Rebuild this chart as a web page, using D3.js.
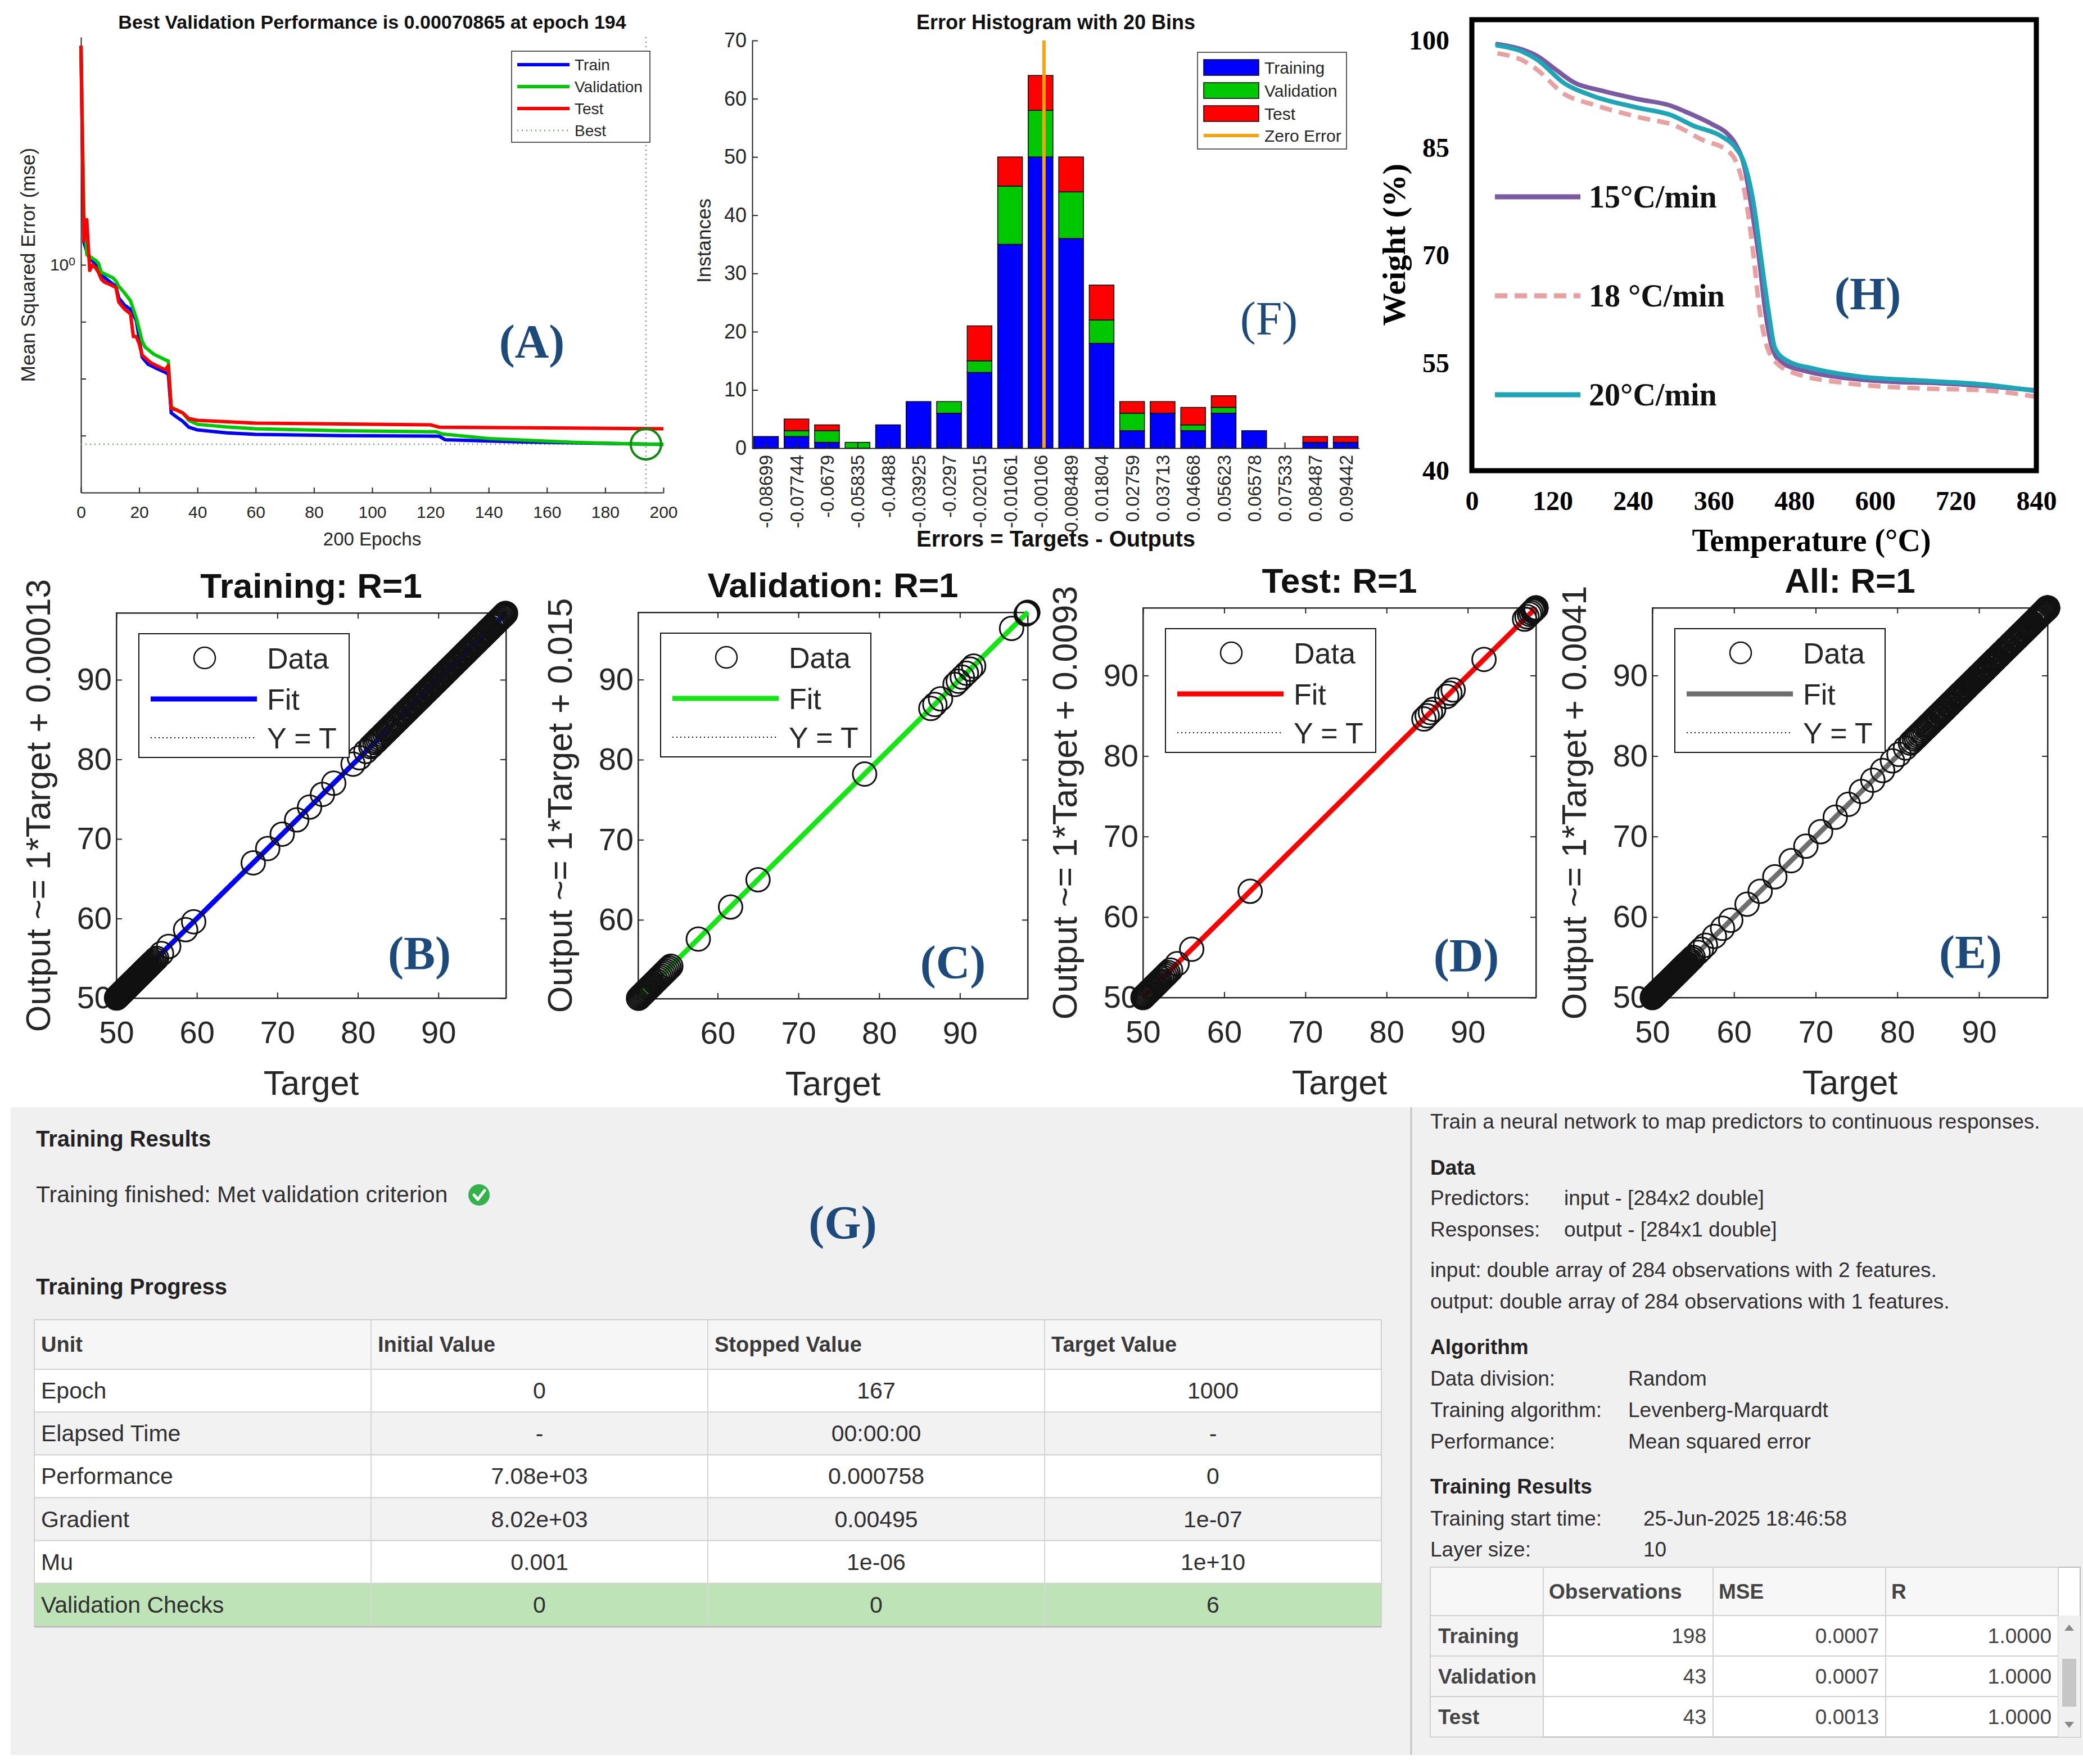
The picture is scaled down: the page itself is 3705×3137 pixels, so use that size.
<!DOCTYPE html>
<html>
<head>
<meta charset="utf-8">
<script src="https://cdn.jsdelivr.net/npm/d3@7"></script>
<style>
  body { margin: 0; background: #fff; }
  svg { display: block; }
</style>
</head>
<body>
<div id="chart"></div>
<script>

// ---------- (A) performance curves: [epoch, mse] ----------
var epochTicks = [0, 20, 40, 60, 80, 100, 120, 140, 160, 180, 200];
var mseTicks = [1e-3, 1e-2, 1e-1, 1];
var bestEpoch = 194;
var bestPerf = 0.00070865;

var trainPerf = [[0, 7080], [1, 2.5], [2, 1.7], [3, 1.26], [5, 1.07], [6, 0.89], [7, 0.66], [10, 0.5],
  [12, 0.42], [13, 0.26], [15, 0.195], [17, 0.166], [19, 0.105], [20, 0.051], [21, 0.024], [23, 0.018],
  [26, 0.0151], [29, 0.0129], [30, 0.012], [31, 0.0025], [33, 0.0021], [35, 0.00178], [37, 0.00141],
  [40, 0.00126], [50, 0.00112], [60, 0.00105], [90, 0.001], [123, 0.00098], [125, 0.00085],
  [150, 0.00078], [194, 0.00071], [200, 0.0007]];

var valPerf = [[0, 7080], [1, 8.1], [2, 1.5], [3, 1.41], [5, 1.2], [6, 1.07], [7, 0.74], [9, 0.66],
  [11, 0.59], [12, 0.52], [13, 0.42], [15, 0.32], [17, 0.234], [19, 0.117], [21, 0.046], [22, 0.036],
  [25, 0.027], [29, 0.0214], [30, 0.0204], [31, 0.0032], [33, 0.0028], [35, 0.0025], [37, 0.00186],
  [40, 0.00158], [50, 0.00142], [60, 0.00132], [90, 0.00122], [122, 0.00117], [124, 0.00107],
  [140, 0.00089], [170, 0.00076], [194, 0.00070865], [200, 0.00071]];

var testPerf = [[0, 7080], [1, 2.6], [2, 6.2], [3, 0.8], [4, 1.0], [5, 0.89], [6, 0.74], [7, 0.56],
  [8, 0.5], [10, 0.45], [12, 0.4], [13, 0.22], [15, 0.166], [17, 0.138], [18, 0.055], [19, 0.055],
  [20, 0.041], [21, 0.026], [24, 0.019], [28, 0.0151], [29, 0.0145], [30, 0.017], [31, 0.003],
  [33, 0.0028], [35, 0.0025], [37, 0.002], [40, 0.00186], [60, 0.00166], [120, 0.00155],
  [123, 0.00141], [200, 0.00132]];

// ---------- (F) error histogram ----------
var binLabels = ['-0.08699', '-0.07744', '-0.0679', '-0.05835', '-0.0488', '-0.03925', '-0.0297',
  '-0.02015', '-0.01061', '-0.00106', '0.008489', '0.01804', '0.02759', '0.03713', '0.04668',
  '0.05623', '0.06578', '0.07533', '0.08487', '0.09442'];
var histTrain = [2, 2, 1, 0, 4, 8, 6, 13, 35, 50, 36, 18, 3, 6, 3, 6, 3, 0, 1, 1];
var histVal = [0, 1, 2, 1, 0, 0, 2, 2, 10, 8, 8, 4, 3, 0, 1, 1, 0, 0, 0, 0];
var histTest = [0, 2, 1, 0, 0, 0, 0, 6, 5, 6, 6, 6, 2, 2, 3, 2, 0, 0, 1, 1];
var instanceTicks = [0, 10, 20, 30, 40, 50, 60, 70];

// ---------- (H) TGA curves: [temperature, weight %] ----------
var tempTicks = [0, 120, 240, 360, 480, 600, 720, 840];
var weightTicks = [40, 55, 70, 85, 100];
var tga15 = [[38, 99.5], [76, 98.7], [96, 97.9], [124, 96.0], [151, 94.2], [193, 93.0], [248, 91.8],
  [296, 90.9], [317, 90.1], [358, 88.3], [379, 87.1], [392, 85.6], [406, 82.2], [416, 76.8],
  [427, 69.9], [437, 62.0], [447, 57.1], [461, 55.1], [496, 53.9], [558, 52.9], [627, 52.4],
  [695, 52.2], [764, 51.8], [840, 51.2]];
var tga18 = [[38, 98.2], [76, 97.2], [96, 96.0], [138, 92.5], [179, 91.1], [248, 89.3], [303, 88.1],
  [344, 86.1], [379, 84.7], [392, 83.3], [406, 78.8], [418, 70.9], [428, 62.5], [437, 58.0],
  [450, 55.4], [480, 53.6], [558, 52.2], [661, 51.5], [764, 51.2], [840, 50.3]];
var tga20 = [[38, 99.3], [76, 98.4], [96, 97.4], [138, 94.0], [179, 92.3], [248, 90.6], [296, 89.6],
  [330, 88.1], [372, 86.6], [392, 85.1], [406, 82.7], [420, 76.8], [430, 69.9], [441, 62.5],
  [451, 57.1], [468, 55.4], [510, 54.2], [579, 53.1], [661, 52.6], [764, 52.0], [840, 51.1]];
var tgaNames = ['15\u00B0C/min', '18 \u00B0C/min', '20\u00B0C/min'];

// ---------- (B-E) regression targets ----------
var regTicks = [50, 60, 70, 80, 90];
var trainTargets = [50.02, 50.05, 50.08, 50.12, 50.15, 50.21, 50.26, 50.3, 50.36, 50.4, 50.44, 50.48,
  50.52, 50.56, 50.6, 50.67, 50.71, 50.75, 50.79, 50.83, 50.9, 50.94, 50.98, 51.01, 51.05, 51.09,
  51.13, 51.17, 51.2, 51.24, 51.28, 51.31, 51.35, 51.42, 51.46, 51.5, 51.54, 51.58, 51.62, 51.66,
  51.7, 51.73, 51.8, 51.85, 51.9, 51.95, 52.0, 52.05, 52.1, 52.14, 52.18, 52.23, 52.27, 52.32,
  52.36, 52.45, 52.5, 52.55, 52.6, 52.65, 52.7, 52.76, 52.82, 52.88, 52.94, 53.0, 53.06, 53.12,
  53.18, 53.25, 53.32, 53.38, 53.45, 53.52, 53.59, 53.66, 53.73, 53.8, 53.88, 53.95, 54.1, 54.25,
  54.42, 54.6, 54.8, 55.0,
  55.6, 56.5, 58.6, 59.6, 67.0, 68.8, 70.6, 72.4, 74.0, 75.6, 77.0, 79.4, 80.2, 81.0,
  81.6, 81.8, 82.1, 82.3, 82.5, 82.7, 82.9, 83.1, 83.3, 83.5, 83.7, 83.85, 84.0, 84.2, 84.4, 84.6,
  84.8, 84.95, 85.1, 85.3, 85.5, 85.65, 85.8, 86.0, 86.2, 86.35, 86.5, 86.7, 86.9, 87.05, 87.2,
  87.4, 87.6, 87.75, 87.9, 88.1, 88.3, 88.45, 88.6, 88.8, 89.0, 89.15, 89.3, 89.5, 89.7, 89.85,
  90.0, 90.2, 90.4, 90.55, 90.7, 90.9, 91.1, 91.25, 91.4, 91.6, 91.8, 91.95, 92.1, 92.3, 92.5,
  92.65, 92.8, 93.0, 93.2, 93.35, 93.5, 93.7, 93.9, 94.05, 94.2, 94.4, 94.6, 94.75, 94.9, 95.1,
  95.3, 95.45, 95.6, 95.8, 96.0, 96.15, 96.3, 96.5, 96.7, 96.85, 97.0, 97.15, 97.3, 97.45, 97.6,
  97.75, 97.9, 98.0, 98.1, 98.2, 98.3, 98.35];
var valTargets = [50.2, 50.35, 50.5, 50.65, 50.8, 50.95, 51.1, 51.25, 51.4, 51.55,
  51.7, 51.85, 52.0, 52.2, 52.4, 52.6, 52.8, 53.0, 53.2, 53.4, 53.6, 53.8, 54.0, 54.2,
  57.6, 61.6, 65.0, 78.2, 86.4, 86.9, 87.6, 89.4, 89.8, 90.3, 90.8, 91.3, 91.7, 96.4,
  98.2, 98.3, 98.35, 98.4, 98.4];
var testTargets = [50.0, 50.1, 50.2, 50.3, 50.45, 50.6, 50.75, 50.9, 51.05, 51.2,
  51.35, 51.5, 51.65, 51.8, 51.95, 52.1, 52.3, 52.5, 52.7, 52.9, 53.1, 53.4,
  54.2, 56.0, 63.2, 84.6, 85.0, 85.4, 85.8, 87.4, 87.8, 88.2, 92.0, 97.0, 97.3,
  97.6, 97.8, 98.0, 98.1, 98.2, 98.3, 98.4, 98.4];
var regIntercepts = ['0.00013', '0.015', '0.0093', '0.0041'];
var regTitles = ['Training: R=1', 'Validation: R=1', 'Test: R=1', 'All: R=1'];

// ---------- (G) training summary ----------
var progressCols = ['Unit', 'Initial Value', 'Stopped Value', 'Target Value'];
var progressRows = [
  ['Epoch', '0', '167', '1000'],
  ['Elapsed Time', '-', '00:00:00', '-'],
  ['Performance', '7.08e+03', '0.000758', '0'],
  ['Gradient', '8.02e+03', '0.00495', '1e-07'],
  ['Mu', '0.001', '1e-06', '1e+10'],
  ['Validation Checks', '0', '0', '6']];
var taskText = 'Train a neural network to map predictors to continuous responses.';
var dataRows = [['Predictors:', 'input - [284x2 double]'], ['Responses:', 'output - [284x1 double]']];
var dataNotes = ['input: double array of 284 observations with 2 features.',
  'output: double array of 284 observations with 1 features.'];
var algoRows = [['Data division:', 'Random'], ['Training algorithm:', 'Levenberg-Marquardt'],
  ['Performance:', 'Mean squared error']];
var startRows = [['Training start time:', '25-Jun-2025 18:46:58'], ['Layer size:', '10']];
var resultCols = ['', 'Observations', 'MSE', 'R'];
var resultRows = [['Training', '198', '0.0007', '1.0000'], ['Validation', '43', '0.0007', '1.0000'],
  ['Test', '43', '0.0013', '1.0000']];


var SANS = '"Liberation Sans", Arial, Helvetica, sans-serif';
var SERIF = '"Liberation Serif", "Times New Roman", Times, serif';
var INK = '#262626';
var LABEL_BLUE = '#1d4a7c';

var svg = d3.select('#chart').append('svg')
  .attr('width', 3705)
  .attr('height', 3137);

svg.append('rect')
  .attr('width', 3705)
  .attr('height', 3137)
  .attr('fill', '#fff');

function styleAxis(sel, size, color, family, weight) {
  sel.attr('font-size', size)
    .attr('font-family', family || SANS)
    .attr('font-weight', weight || 'normal');
  sel.select('.domain').attr('stroke', color).attr('stroke-width', 2);
  sel.selectAll('.tick line').attr('stroke', color).attr('stroke-width', 2);
  sel.selectAll('.tick text').attr('fill', color);
}

function addText(g, x, y, str, size, opts) {
  opts = opts || {};
  var t = g.append('text')
    .attr('x', x)
    .attr('y', y)
    .attr('font-family', opts.family || SANS)
    .attr('font-size', size)
    .attr('font-weight', opts.weight || 'normal')
    .attr('fill', opts.fill || INK)
    .attr('text-anchor', opts.anchor || 'start')
    .text(str);
  if (opts.rotate) t.attr('transform', 'rotate(-90,' + x + ',' + y + ')');
  return t;
}

function panelLabel(str, cx, cy, size, weight) {
  svg.append('text')
    .attr('x', cx)
    .attr('y', cy)
    .attr('dy', '0.33em')
    .attr('text-anchor', 'middle')
    .attr('font-family', SERIF)
    .attr('font-size', size)
    .attr('font-weight', weight)
    .attr('fill', LABEL_BLUE)
    .text(str);
}

// ================= (A) performance =================
function drawPerformance() {
  var left = 144, right = 1180, top = 66, bottom = 876;
  var g = svg.append('g');

  var x = d3.scaleLinear().domain([0, 200]).range([left, right]);
  var y = d3.scaleLog().domain([1e-4, 1e4]).range([bottom, top]);

  var xAxis = g.append('g')
    .attr('transform', 'translate(0,' + bottom + ')')
    .call(d3.axisBottom(x).tickValues(epochTicks).tickSize(-9).tickSizeOuter(0).tickPadding(24));
  styleAxis(xAxis, 30, INK);

  var yAxis = g.append('g')
    .attr('transform', 'translate(' + left + ',0)')
    .call(d3.axisLeft(y).tickValues(mseTicks).tickSize(-9).tickSizeOuter(0).tickPadding(10).tickFormat(''));
  styleAxis(yAxis, 30, INK);
  yAxis.selectAll('.tick').filter(function (d) { return d === 1; }).select('text')
    .call(function (t) {
      t.append('tspan').text('10');
      t.append('tspan').attr('dy', '-0.45em').attr('font-size', 21).text('0');
    });

  // best markers
  g.append('line')
    .attr('x1', left).attr('x2', right)
    .attr('y1', y(bestPerf)).attr('y2', y(bestPerf))
    .attr('stroke', '#6d9c6d').attr('stroke-width', 2.5).attr('stroke-dasharray', '2,6');
  g.append('line')
    .attr('x1', x(bestEpoch)).attr('x2', x(bestEpoch))
    .attr('y1', top).attr('y2', bottom)
    .attr('stroke', '#6d9c6d').attr('stroke-width', 2.5).attr('stroke-dasharray', '2,6');

  var line = d3.line()
    .x(function (d) { return x(d[0]); })
    .y(function (d) { return y(d[1]); });

  [[trainPerf, '#0000ff'], [valPerf, '#00c800'], [testPerf, '#ff0000']].forEach(function (s) {
    g.append('path')
      .datum(s[0])
      .attr('d', line)
      .attr('fill', 'none')
      .attr('stroke', s[1])
      .attr('stroke-width', 6)
      .attr('stroke-linejoin', 'round');
  });

  g.append('circle')
    .attr('cx', x(bestEpoch))
    .attr('cy', y(bestPerf))
    .attr('r', 27)
    .attr('fill', 'none')
    .attr('stroke', '#0a8a0a')
    .attr('stroke-width', 4);

  addText(g, (left + right) / 2, 51, 'Best Validation Performance is 0.00070865 at epoch 194', 34,
    { anchor: 'middle', weight: 'bold', fill: '#111' });
  addText(g, (left + right) / 2, 970, '200 Epochs', 33, { anchor: 'middle' });
  addText(g, 62, (top + bottom) / 2, 'Mean Squared Error  (mse)', 35, { anchor: 'middle', rotate: true });

  // legend
  var lg = g.append('g').attr('transform', 'translate(910,91)');
  lg.append('rect').attr('width', 246).attr('height', 162)
    .attr('fill', '#fff').attr('stroke', INK).attr('stroke-width', 1.5);
  var items = [['Train', '#0000ff', null], ['Validation', '#00c800', null],
    ['Test', '#ff0000', null], ['Best', '#6d9c6d', '2,6']];
  items.forEach(function (it, i) {
    var yy = 24 + i * 39;
    lg.append('line').attr('x1', 10).attr('x2', 103).attr('y1', yy).attr('y2', yy)
      .attr('stroke', it[1]).attr('stroke-width', it[2] ? 2.5 : 6)
      .attr('stroke-dasharray', it[2]);
    addText(lg, 112, yy + 10, it[0], 28);
  });
}

// ================= (F) histogram =================
function drawHistogram() {
  var left = 1338, right = 2418, top = 72, bottom = 797;
  var g = svg.append('g');

  var x = d3.scaleLinear().domain([-0.45, 19.45]).range([left, right]);
  var y = d3.scaleLinear().domain([0, 70]).range([bottom, top]);
  var binPos = d3.scaleLinear()
    .domain([+binLabels[0], +binLabels[binLabels.length - 1]])
    .range([0, binLabels.length - 1]);

  var rows = binLabels.map(function (b, i) {
    return { bin: i, training: histTrain[i], validation: histVal[i], test: histTest[i] };
  });
  var stack = d3.stack().keys(['training', 'validation', 'test'])(rows);
  var fills = { training: '#0000ff', validation: '#00c800', test: '#ff0000' };
  var barW = x(0.405) - x(-0.405);

  stack.forEach(function (layer) {
    g.selectAll(null)
      .data(layer.filter(function (d) { return d[1] > d[0]; }))
      .enter()
      .append('rect')
      .attr('x', function (d) { return x(d.data.bin) - barW / 2; })
      .attr('y', function (d) { return y(d[1]); })
      .attr('width', barW)
      .attr('height', function (d) { return y(d[0]) - y(d[1]); })
      .attr('fill', fills[layer.key])
      .attr('stroke', '#000')
      .attr('stroke-width', 1.5);
  });

  // zero error line
  g.append('line')
    .attr('x1', x(binPos(0))).attr('x2', x(binPos(0)))
    .attr('y1', y(0)).attr('y2', y(70))
    .attr('stroke', '#f7a20f').attr('stroke-width', 6);

  var yAxis = g.append('g')
    .attr('transform', 'translate(' + left + ',0)')
    .call(d3.axisLeft(y).tickValues(instanceTicks).tickSize(-10).tickSizeOuter(0).tickPadding(10));
  styleAxis(yAxis, 36, INK);

  var xAxis = g.append('g')
    .attr('transform', 'translate(0,' + bottom + ')')
    .call(d3.axisBottom(x).tickValues(d3.range(binLabels.length))
      .tickFormat(function (i) { return binLabels[i]; })
      .tickSize(-10).tickSizeOuter(0));
  styleAxis(xAxis, 33, INK);
  xAxis.selectAll('.tick text')
    .attr('transform', 'rotate(-90)')
    .attr('text-anchor', 'end')
    .attr('x', -12)
    .attr('y', 0)
    .attr('dy', '0.35em');

  addText(g, (left + right) / 2, 52, 'Error Histogram with 20 Bins', 36,
    { anchor: 'middle', weight: 'bold', fill: '#111' });
  addText(g, (left + right) / 2, 972, 'Errors = Targets - Outputs', 40,
    { anchor: 'middle', weight: 'bold', fill: '#111' });
  addText(g, 1264, 428, 'Instances', 35, { anchor: 'middle', rotate: true });

  // legend
  var lg = g.append('g').attr('transform', 'translate(2130,93)');
  lg.append('rect').attr('width', 265).attr('height', 172)
    .attr('fill', '#fff').attr('stroke', INK).attr('stroke-width', 1.5);
  var items = [['Training', '#0000ff'], ['Validation', '#00c800'], ['Test', '#ff0000']];
  items.forEach(function (it, i) {
    var yy = 27 + i * 41;
    lg.append('rect').attr('x', 11).attr('y', yy - 14).attr('width', 98).attr('height', 28)
      .attr('fill', it[1]).attr('stroke', '#000').attr('stroke-width', 1.5);
    addText(lg, 119, yy + 11, it[0], 30);
  });
  lg.append('line').attr('x1', 11).attr('x2', 109).attr('y1', 148).attr('y2', 148)
    .attr('stroke', '#f7a20f').attr('stroke-width', 6);
  addText(lg, 119, 159, 'Zero Error', 30);
}

// ================= (H) TGA =================
function drawTga() {
  var left = 2618, right = 3622, top = 35, bottom = 837;
  var g = svg.append('g');

  var x = d3.scaleLinear().domain([0, 840]).range([left, right]);
  var y = d3.scaleLinear().domain([40, 102.9]).range([bottom, top]);

  var line = d3.line()
    .curve(d3.curveMonotoneX)
    .x(function (d) { return x(d[0]); })
    .y(function (d) { return y(d[1]); });

  var series = [
    { data: tga15, color: '#7a5aa2', dash: null },
    { data: tga18, color: '#e8a0a0', dash: '22,13' },
    { data: tga20, color: '#1ea5b7', dash: null }];

  series.forEach(function (s) {
    g.append('path')
      .datum(s.data)
      .attr('d', line)
      .attr('fill', 'none')
      .attr('stroke', s.color)
      .attr('stroke-width', 8)
      .attr('stroke-dasharray', s.dash)
      .attr('stroke-linecap', s.dash ? 'butt' : 'round');
  });

  g.append('rect')
    .attr('x', left).attr('y', top)
    .attr('width', right - left).attr('height', bottom - top)
    .attr('fill', 'none').attr('stroke', '#000').attr('stroke-width', 9);

  var yAxis = g.append('g')
    .attr('transform', 'translate(' + left + ',0)')
    .call(d3.axisLeft(y).tickValues(weightTicks).tickSize(0).tickPadding(40));
  styleAxis(yAxis, 48, '#000', SERIF, 'bold');
  yAxis.select('.domain').remove();

  var xAxis = g.append('g')
    .attr('transform', 'translate(0,' + bottom + ')')
    .call(d3.axisBottom(x).tickValues(tempTicks).tickSize(0).tickPadding(36));
  styleAxis(xAxis, 48, '#000', SERIF, 'bold');
  xAxis.select('.domain').remove();

  addText(g, 3222, 980, 'Temperature (\u00B0C)', 56, { anchor: 'middle', weight: 'bold', family: SERIF, fill: '#000' });
  addText(g, 2499, 435, 'Weight (%)', 58, { anchor: 'middle', weight: 'bold', family: SERIF, fill: '#000', rotate: true });

  // legend
  series.forEach(function (s, i) {
    var yy = 350 + i * 176;
    g.append('line').attr('x1', 2659).attr('x2', 2811).attr('y1', yy).attr('y2', yy)
      .attr('stroke', s.color).attr('stroke-width', 9).attr('stroke-dasharray', s.dash);
    addText(g, 2826, yy + 19, tgaNames[i], 56, { weight: 'bold', family: SERIF, fill: '#111' });
  });
}

// ================= (B-E) regression =================
function drawRegression(p) {
  var g = svg.append('g');
  var x = d3.scaleLinear().domain(p.domain).range([p.left, p.right]);
  var y = d3.scaleLinear().domain(p.domain).range([p.bottom, p.top]);
  var ticks = regTicks.filter(function (v) { return v >= p.domain[0]; });

  g.append('rect')
    .attr('x', p.left).attr('y', p.top)
    .attr('width', p.right - p.left).attr('height', p.bottom - p.top)
    .attr('fill', '#fff').attr('stroke', INK).attr('stroke-width', 2);

  var xb = g.append('g').attr('transform', 'translate(0,' + p.bottom + ')')
    .call(d3.axisBottom(x).tickValues(ticks).tickSize(-10).tickSizeOuter(0).tickPadding(40));
  styleAxis(xb, 56, INK);
  var yl = g.append('g').attr('transform', 'translate(' + p.left + ',0)')
    .call(d3.axisLeft(y).tickValues(ticks).tickSize(-10).tickSizeOuter(0).tickPadding(8));
  styleAxis(yl, 56, INK);
  var xt = g.append('g').attr('transform', 'translate(0,' + p.top + ')')
    .call(d3.axisTop(x).tickValues(ticks).tickSize(-10).tickSizeOuter(0).tickFormat(''));
  styleAxis(xt, 56, INK);
  var yr = g.append('g').attr('transform', 'translate(' + p.right + ',0)')
    .call(d3.axisRight(y).tickValues(ticks).tickSize(-10).tickSizeOuter(0).tickFormat(''));
  styleAxis(yr, 56, INK);

  var d0 = p.domain[0], d1 = p.domain[1], c = +p.intercept;

  // Y = T
  g.append('line')
    .attr('x1', x(d0)).attr('y1', y(d0)).attr('x2', x(d1)).attr('y2', y(d1))
    .attr('stroke', '#000').attr('stroke-width', 2).attr('stroke-dasharray', '2,5');
  // fit
  g.append('line')
    .attr('x1', x(d0)).attr('y1', y(d0 + c)).attr('x2', x(d1)).attr('y2', y(d1 + c))
    .attr('stroke', p.color).attr('stroke-width', 9);

  g.selectAll('circle.pt')
    .data(p.targets)
    .enter()
    .append('circle')
    .attr('class', 'pt')
    .attr('cx', function (d) { return x(d); })
    .attr('cy', function (d) { return y(d); })
    .attr('r', 21)
    .attr('fill', 'none')
    .attr('stroke', '#111')
    .attr('stroke-width', 3);

  addText(g, (p.left + p.right) / 2, p.top - 27, p.title, 62, { anchor: 'middle', weight: 'bold', fill: '#111' });
  addText(g, (p.left + p.right) / 2, p.bottom + 172, 'Target', 61, { anchor: 'middle' });
  addText(g, p.left - 118, (p.top + p.bottom) / 2, 'Output ~= 1*Target + ' + p.intercept, 61,
    { anchor: 'middle', rotate: true });

  // legend
  var lg = g.append('g').attr('transform', 'translate(' + (p.left + 40) + ',' + (p.top + 37) + ')');
  lg.append('rect').attr('width', 374).attr('height', 220)
    .attr('fill', '#fff').attr('stroke', '#111').attr('stroke-width', 2);
  lg.append('circle').attr('cx', 117).attr('cy', 43).attr('r', 19)
    .attr('fill', 'none').attr('stroke', '#111').attr('stroke-width', 2.5);
  addText(lg, 228, 62, 'Data', 52);
  lg.append('line').attr('x1', 21).attr('x2', 210).attr('y1', 116).attr('y2', 116)
    .attr('stroke', p.color).attr('stroke-width', 9);
  addText(lg, 228, 135, 'Fit', 52);
  lg.append('line').attr('x1', 21).attr('x2', 210).attr('y1', 185).attr('y2', 185)
    .attr('stroke', '#000').attr('stroke-width', 2).attr('stroke-dasharray', '2,5');
  addText(lg, 228, 204, 'Y = T', 52);
}

// ================= (G) summary panel =================
function drawSummary() {
  var g = svg.append('g');
  g.append('rect').attr('x', 19).attr('y', 1969).attr('width', 3686).attr('height', 1152).attr('fill', '#f0f0f0');
  g.append('line').attr('x1', 2510).attr('x2', 2510).attr('y1', 1969).attr('y2', 3121)
    .attr('stroke', '#c4c4c4').attr('stroke-width', 3);

  var txt = '#303030';
  addText(g, 64, 2039, 'Training Results', 40, { weight: 'bold', fill: '#222' });
  addText(g, 64, 2138, 'Training finished: Met validation criterion', 41, { fill: txt });
  var chk = g.append('g').attr('transform', 'translate(852,2125)');
  chk.append('circle').attr('r', 19).attr('fill', '#33b249');
  chk.append('path').attr('d', 'M-9,0 L-2,8 L10,-8').attr('fill', 'none')
    .attr('stroke', '#fff').attr('stroke-width', 5).attr('stroke-linecap', 'round').attr('stroke-linejoin', 'round');
  addText(g, 64, 2302, 'Training Progress', 40, { weight: 'bold', fill: '#222' });

  // progress table
  var col = d3.scaleBand().domain(d3.range(progressCols.length)).range([61, 2457]);
  var row = d3.scaleBand().domain(d3.range(progressRows.length)).range([2435, 2892]);
  var head = g.append('g');
  head.append('rect').attr('x', 61).attr('y', 2347).attr('width', 2396).attr('height', 88)
    .attr('fill', '#f6f6f6').attr('stroke', '#cfcfcf').attr('stroke-width', 2);
  progressCols.forEach(function (c, i) {
    if (i > 0) {
      head.append('line').attr('x1', col(i)).attr('x2', col(i)).attr('y1', 2347).attr('y2', 2435)
        .attr('stroke', '#d6d6d6').attr('stroke-width', 2);
    }
    addText(head, col(i) + 12, 2404, c, 38, { weight: 'bold', fill: '#3a3a3a' });
  });
  var rowFill = ['#ffffff', '#f2f2f2', '#ffffff', '#f2f2f2', '#ffffff', '#bde3b6'];
  progressRows.forEach(function (r, j) {
    var ry = row(j);
    g.append('rect').attr('x', 61).attr('y', ry).attr('width', 2396).attr('height', row.bandwidth())
      .attr('fill', rowFill[j]).attr('stroke', '#d2d2d2').attr('stroke-width', 2);
    r.forEach(function (v, i) {
      if (i > 0) {
        g.append('line').attr('x1', col(i)).attr('x2', col(i)).attr('y1', ry).attr('y2', ry + row.bandwidth())
          .attr('stroke', '#d6d6d6').attr('stroke-width', 2);
        addText(g, col(i) + col.bandwidth() / 2, ry + row.bandwidth() / 2 + 14, v, 41, { anchor: 'middle', fill: txt });
      } else {
        addText(g, col(i) + 12, ry + row.bandwidth() / 2 + 14, v, 41, { fill: txt });
      }
    });
  });
  g.append('line').attr('x1', 61).attr('x2', 2457).attr('y1', 2893).attr('y2', 2893)
    .attr('stroke', '#bdbdbd').attr('stroke-width', 3);

  // right-hand information
  var rx = 2544, fs = 37;
  addText(g, rx, 2007, taskText, fs, { fill: txt });
  addText(g, rx, 2089, 'Data', fs, { weight: 'bold', fill: '#222' });
  dataRows.forEach(function (r, i) {
    addText(g, rx, 2143 + i * 56, r[0], fs, { fill: txt });
    addText(g, 2782, 2143 + i * 56, r[1], fs, { fill: txt });
  });
  dataNotes.forEach(function (r, i) {
    addText(g, rx, 2271 + i * 56, r, fs, { fill: txt });
  });
  addText(g, rx, 2408, 'Algorithm', fs, { weight: 'bold', fill: '#222' });
  algoRows.forEach(function (r, i) {
    addText(g, rx, 2464 + i * 56, r[0], fs, { fill: txt });
    addText(g, 2896, 2464 + i * 56, r[1], fs, { fill: txt });
  });
  addText(g, rx, 2656, 'Training Results', fs, { weight: 'bold', fill: '#222' });
  startRows.forEach(function (r, i) {
    addText(g, rx, 2713 + i * 55, r[0], fs, { fill: txt });
    addText(g, 2923, 2713 + i * 55, r[1], fs, { fill: txt });
  });

  // results table
  var edges = [2544, 2745, 3047, 3354, 3661];
  var rrow = d3.scaleBand().domain(d3.range(resultRows.length)).range([2873, 3089]);
  g.append('rect').attr('x', 2544).attr('y', 2787).attr('width', 1156).attr('height', 302)
    .attr('fill', '#fff').attr('stroke', '#bcbcbc').attr('stroke-width', 2);
  g.append('rect').attr('x', 2544).attr('y', 2787).attr('width', 1117).attr('height', 86)
    .attr('fill', '#f7f7f7').attr('stroke', '#cfcfcf').attr('stroke-width', 2);
  resultCols.forEach(function (c, i) {
    g.append('line').attr('x1', edges[i + 1]).attr('x2', edges[i + 1]).attr('y1', 2787).attr('y2', 3089)
      .attr('stroke', '#d0d0d0').attr('stroke-width', 2);
    if (c) addText(g, edges[i] + 10, 2843, c, fs, { weight: 'bold', fill: '#444' });
  });
  resultRows.forEach(function (r, j) {
    var ry = rrow(j);
    g.append('rect').attr('x', 2544).attr('y', ry).attr('width', 201).attr('height', rrow.bandwidth())
      .attr('fill', '#f4f4f4').attr('stroke', '#d0d0d0').attr('stroke-width', 2);
    g.append('line').attr('x1', 2544).attr('x2', 3661).attr('y1', ry).attr('y2', ry)
      .attr('stroke', '#d0d0d0').attr('stroke-width', 2);
    r.forEach(function (v, i) {
      if (i === 0) {
        addText(g, edges[0] + 14, ry + rrow.bandwidth() / 2 + 13, v, fs, { weight: 'bold', fill: '#444' });
      } else {
        addText(g, edges[i + 1] - 12, ry + rrow.bandwidth() / 2 + 13, v, fs, { anchor: 'end', fill: '#444' });
      }
    });
  });
  // scrollbar
  g.append('rect').attr('x', 3661).attr('y', 2873).attr('width', 39).attr('height', 216).attr('fill', '#f0f0f0');
  g.append('rect').attr('x', 3668).attr('y', 2950).attr('width', 25).attr('height', 85).attr('fill', '#c6c6c6');
  g.append('path').attr('d', 'M3672,2900 L3689,2900 L3680.5,2889 Z').attr('fill', '#8a8a8a');
  g.append('path').attr('d', 'M3672,3062 L3689,3062 L3680.5,3073 Z').attr('fill', '#8a8a8a');
}

drawPerformance();
drawHistogram();
drawTga();

drawRegression({ left: 207, right: 900, top: 1090, bottom: 1775, domain: [50, 98.4],
  targets: trainTargets, color: '#0000ff', intercept: regIntercepts[0], title: regTitles[0] });
drawRegression({ left: 1135, right: 1828, top: 1089, bottom: 1776, domain: [50.15, 98.4],
  targets: valTargets, color: '#14e614', intercept: regIntercepts[1], title: regTitles[1] });
drawRegression({ left: 2033, right: 2732, top: 1081, bottom: 1774, domain: [50, 98.4],
  targets: testTargets, color: '#ff0000', intercept: regIntercepts[2], title: regTitles[2] });
drawRegression({ left: 2939, right: 3642, top: 1081, bottom: 1774, domain: [50, 98.4],
  targets: trainTargets.concat(valTargets, testTargets), color: '#6e6e6e', intercept: regIntercepts[3], title: regTitles[3] });

drawSummary();

// panel letters
panelLabel('(A)', 946, 608, 84, 'bold');
panelLabel('(F)', 2257, 567, 84, 'normal');
panelLabel('(H)', 3322, 523, 82, 'bold');
panelLabel('(B)', 746, 1696, 84, 'bold');
panelLabel('(C)', 1695, 1712, 84, 'bold');
panelLabel('(D)', 2608, 1700, 84, 'bold');
panelLabel('(E)', 3505, 1694, 84, 'bold');
panelLabel('(G)', 1499, 2175, 84, 'bold');

</script>
</body>
</html>
